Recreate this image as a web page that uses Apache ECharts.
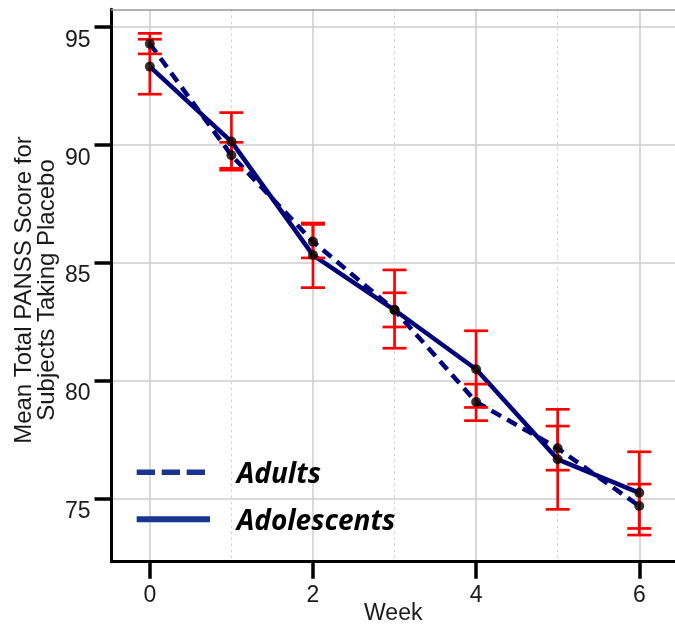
<!DOCTYPE html>
<html>
<head>
<meta charset="utf-8">
<script src="https://cdn.jsdelivr.net/npm/echarts@6.0.0/dist/echarts.min.js"></script>
<style>
  html, body { margin: 0; padding: 0; background: #ffffff; }
  #chart { width: 675px; height: 627px; }
</style>
</head>
<body>
<div id="chart"></div>
<script>
// ---- data ----
var weeks = [0, 1, 2, 3, 4, 5, 6];
var adults = [94.28, 89.55, 85.89, 82.99, 79.09, 77.13, 74.68];
var adultsLow = [93.85, 89.00, 85.20, 82.27, 78.30, 76.20, 73.73];
var adultsHigh = [94.72, 90.10, 86.62, 83.72, 79.85, 78.07, 75.61];
var adolescents = [93.31, 90.13, 85.32, 82.99, 80.48, 76.66, 75.24];
var adolescentsLow = [92.14, 88.92, 83.94, 81.37, 78.86, 74.54, 73.45];
var adolescentsHigh = [94.47, 91.36, 86.68, 84.69, 82.11, 78.78, 76.98];
var xMajorTicks = [0, 2, 4, 6];
var xMinorTicks = [1, 3, 5];
var yTicks = [75, 80, 85, 90, 95];
var seriesNames = ['Adults', 'Adolescents'];
var xAxisName = 'Week';
var yAxisName = 'Mean Total PANSS Score for\nSubjects Taking Placebo';

// ---- build ----
function pairs(xs, ys) { return xs.map(function (x, i) { return [x, ys[i]]; }); }
function triples(xs, lo, hi) { return xs.map(function (x, i) { return [x, lo[i], hi[i]]; }); }

var lineColor = '#00007a';
var labelFont = 'Liberation Sans, Arial, sans-serif';

function errorBarRender(params, api) {
  var x = api.value(0), lo = api.value(1), hi = api.value(2);
  var pLo = api.coord([x, lo]);
  var pHi = api.coord([x, hi]);
  var hw = 12;
  var style = { stroke: '#ff0000', lineWidth: 2.7 };
  return {
    type: 'group',
    children: [
      { type: 'line', shape: { x1: pLo[0], y1: pLo[1], x2: pHi[0], y2: pHi[1] }, style: style },
      { type: 'line', shape: { x1: pLo[0] - hw, y1: pLo[1], x2: pLo[0] + hw, y2: pLo[1] }, style: style },
      { type: 'line', shape: { x1: pHi[0] - hw, y1: pHi[1], x2: pHi[0] + hw, y2: pHi[1] }, style: style }
    ]
  };
}

var chart = echarts.init(document.getElementById('chart'), null, { renderer: 'canvas' });

var option = {
  animation: false,
  backgroundColor: '#ffffff',
  grid: { left: 111.5, right: 0, top: 9.3, bottom: 65.3, containLabel: false, outerBoundsMode: 'none' },
  xAxis: [
    {
      type: 'value', min: -0.47, max: 6.438, position: 'bottom',
      name: xAxisName, nameLocation: 'middle', nameGap: 40, nameMoveOverlap: false,
      nameTextStyle: { fontSize: 23, color: '#1a1a1a', fontFamily: labelFont },
      axisLine: { show: true, onZero: false, lineStyle: { color: '#000000', width: 3 } },
      axisTick: { show: true, length: 17, customValues: xMajorTicks, lineStyle: { color: '#000000', width: 3.5 } },
      axisLabel: { show: true, customValues: xMajorTicks, margin: 22, fontSize: 23, color: '#1a1a1a', fontFamily: labelFont },
      splitLine: { show: true, lineStyle: { color: '#cccccc', width: 1.5 } }
    },
    {
      type: 'value', min: -0.47, max: 6.438, position: 'top',
      axisLine: { show: true, onZero: false, lineStyle: { color: '#999999', width: 1.5 } },
      axisTick: { show: false, customValues: xMinorTicks },
      axisLabel: { show: false, customValues: xMinorTicks },
      splitLine: { show: true, lineStyle: { color: '#d6d6d6', width: 1, type: [3, 3] } }
    }
  ],
  yAxis: {
    type: 'value', min: 72.32, max: 95.74,
    name: yAxisName, nameLocation: 'middle', nameRotate: 90, nameGap: 53, nameMoveOverlap: false,
    nameTextStyle: { fontSize: 24, lineHeight: 23, color: '#1a1a1a', fontFamily: labelFont, align: 'center', padding: [0, 9, 0, 0] },
    axisLine: { show: true, onZero: false, lineStyle: { color: '#000000', width: 3 } },
    axisTick: { show: true, length: 17, customValues: yTicks, lineStyle: { color: '#000000', width: 3.5 } },
    axisLabel: { show: true, customValues: yTicks, margin: 21, fontSize: 23, lineHeight: 27, verticalAlign: 'top', color: '#1a1a1a', fontFamily: labelFont },
    splitLine: { show: true, lineStyle: { color: '#cccccc', width: 1.5 } }
  },
  series: [
    {
      name: seriesNames[0], type: 'line', xAxisIndex: 0, data: pairs(weeks, adults),
      showSymbol: false, symbol: 'none', z: 2,
      lineStyle: { color: lineColor, width: 4.5, type: [11, 7] }
    },
    {
      name: seriesNames[1], type: 'line', xAxisIndex: 0, data: pairs(weeks, adolescents),
      showSymbol: false, symbol: 'none', z: 2,
      lineStyle: { color: lineColor, width: 4.5, type: 'solid' }
    },
    {
      name: seriesNames[0] + ' SE', type: 'custom', xAxisIndex: 0, z: 3,
      data: triples(weeks, adultsLow, adultsHigh), encode: { x: 0, y: [1, 2] },
      renderItem: errorBarRender
    },
    {
      name: seriesNames[1] + ' SE', type: 'custom', xAxisIndex: 0, z: 3,
      data: triples(weeks, adolescentsLow, adolescentsHigh), encode: { x: 0, y: [1, 2] },
      renderItem: errorBarRender
    },
    {
      name: seriesNames[0] + ' pts', type: 'scatter', xAxisIndex: 0, z: 4,
      data: pairs(weeks, adults), symbolSize: 10, itemStyle: { color: '#000000' }
    },
    {
      name: seriesNames[1] + ' pts', type: 'scatter', xAxisIndex: 0, z: 4,
      data: pairs(weeks, adolescents), symbolSize: 10, itemStyle: { color: '#000000' }
    }
  ],
  graphic: [
    { type: 'line', z: 10, shape: { x1: 136.7, y1: 472.3, x2: 210, y2: 472.3 },
      style: { stroke: '#1a3590', lineWidth: 5.5, lineDash: [18.3, 6.7] } },
    { type: 'line', z: 10, shape: { x1: 136.7, y1: 519.3, x2: 210, y2: 519.3 },
      style: { stroke: '#1a3590', lineWidth: 6 } },
    { type: 'text', z: 10, left: 236.7, top: 461.5,
      style: { text: seriesNames[0], font: 'italic bold 28px "Open Sans", Lato, sans-serif', fill: '#000000' } },
    { type: 'text', z: 10, left: 236.7, top: 508.5,
      style: { text: seriesNames[1], font: 'italic bold 28px "Open Sans", Lato, sans-serif', fill: '#000000' } }
  ]
};
chart.setOption(option);
</script>
</body>
</html>
